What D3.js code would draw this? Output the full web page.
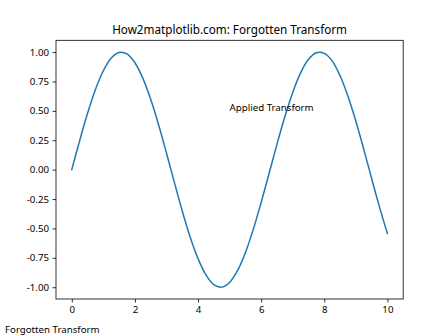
<!DOCTYPE html>
<html><head><meta charset="utf-8">
<script src="https://cdn.jsdelivr.net/npm/d3@7"></script>
<style>body{margin:0;background:#fff}svg{display:block}text{font-family:"Noto Sans",sans-serif}</style>
</head><body><div id="chart"></div>
<script>
const xValues = [0,0.25,0.5,0.75,1,1.25,1.5,1.75,2,2.25,2.5,2.75,3,3.25,3.5,3.75,4,4.25,4.5,4.75,5,5.25,5.5,5.75,6,6.25,6.5,6.75,7,7.25,7.5,7.75,8,8.25,8.5,8.75,9,9.25,9.5,9.75,10];
const yValues = [0.000,0.247,0.479,0.682,0.841,0.949,0.997,0.984,0.909,0.778,0.598,0.382,0.141,-0.108,-0.351,-0.572,-0.757,-0.895,-0.978,-0.999,-0.959,-0.859,-0.706,-0.508,-0.279,-0.033,0.215,0.450,0.657,0.823,0.938,0.994,0.989,0.925,0.798,0.624,0.412,0.174,-0.075,-0.319,-0.544];
const xTicks = [0,2,4,6,8,10];
const yTicks = [-1,-0.75,-0.5,-0.25,0,0.25,0.5,0.75,1];
const titleText = "How2matplotlib.com: Forgotten Transform";
const annotation = {x:5, y:0.5, text:"Applied Transform"};
const figText = "Forgotten Transform";

const W=448,H=336, L=56, R=403.2, T=40.3, B=299;
const svg=d3.select("#chart").append("svg").attr("width",W).attr("height",H);
const x=d3.scaleLinear().domain([-0.5,10.5]).range([L,R]);
const y=d3.scaleLinear().domain([-1.1,1.1]).range([B,T]);

svg.append("clipPath").attr("id","c").append("rect").attr("x",L).attr("y",T).attr("width",R-L).attr("height",B-T);
const data=xValues.map((v,i)=>[v,yValues[i]]);
svg.append("path").datum(data).attr("clip-path","url(#c)")
  .attr("fill","none").attr("stroke","#1f77b4").attr("stroke-width",1.5)
  .attr("stroke-linejoin","round").attr("stroke-linecap","square")
  .attr("d",d3.line().x(d=>x(d[0])).y(d=>y(d[1])).curve(d3.curveCatmullRom.alpha(0.5)));

const xa=svg.append("g").attr("transform",`translate(0,${B})`)
  .call(d3.axisBottom(x).tickValues(xTicks).tickFormat(d3.format("d")).tickSize(3.5).tickPadding(3.5).tickSizeOuter(0));
const ya=svg.append("g").attr("transform",`translate(${L},0)`)
  .call(d3.axisLeft(y).tickValues(yTicks).tickFormat(d3.format(".2f")).tickSize(3.5).tickPadding(3.5).tickSizeOuter(0));
[xa,ya].forEach(a=>{a.select(".domain").remove();a.selectAll("line").attr("stroke","#000").attr("stroke-width",0.8);
  a.selectAll("text").attr("font-size","9.7px").attr("fill","#000").attr("font-family","'Noto Sans',sans-serif");});
ya.selectAll("text").text(d=>d3.format(".2f")(d).replace("−","-"));

svg.append("rect").attr("x",L).attr("y",T).attr("width",R-L).attr("height",B-T)
  .attr("fill","none").attr("stroke","#000").attr("stroke-width",0.8);

svg.append("text").attr("x",(L+R)/2).attr("y",T-6).attr("text-anchor","middle")
  .attr("font-size","11.7px").text(titleText);
svg.append("text").attr("x",x(annotation.x)).attr("y",y(annotation.y)).attr("font-size","9.7px").text(annotation.text);
svg.append("text").attr("x",5).attr("y",333).attr("font-size","9.7px").text(figText);
</script></body></html>
